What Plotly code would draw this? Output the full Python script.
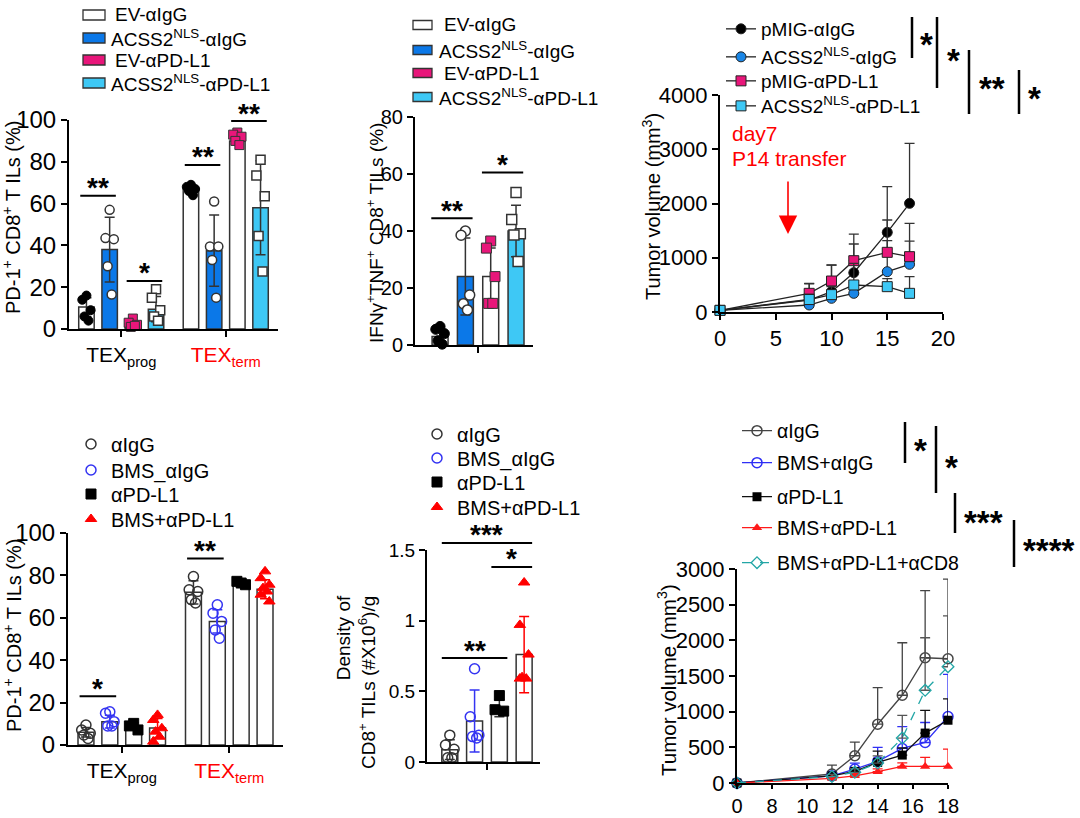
import plotly.graph_objects as go

W, H = 1080, 818
FONT = "Liberation Sans, Arial, Helvetica, sans-serif"

# ======================= DATA =======================
# ---- Panel A: PD-1+ CD8+ TILs (%) in TEXprog / TEXterm ----
A_groups = ["TEX<sub>prog</sub>", "<span style=\"color:#ff0000\">TEX<sub>term</sub></span>"]
A_series = ["EV-αIgG", "ACSS2<sup>NLS</sup>-αIgG", "EV-αPD-L1", "ACSS2<sup>NLS</sup>-αPD-L1"]
A_mean_EV_IgG = [10.5, 67.0]
A_mean_ACSS2_IgG = [38.0, 37.5]
A_mean_EV_PDL1 = [2.5, 90.0]
A_mean_ACSS2_PDL1 = [9.5, 58.0]
A_sd_EV_IgG = [4.5, 1.5]
A_sd_ACSS2_IgG = [15.5, 17.0]
A_sd_EV_PDL1 = [1.2, 2.0]
A_sd_ACSS2_PDL1 = [6.0, 22.5]
A_pts_EV_IgG = [[16, 14, 9, 6, 4], [69, 68, 67, 66, 64]]
A_pts_ACSS2_IgG = [[57, 43.5, 43, 30, 16.5], [61, 39.5, 39.5, 33, 15]]
A_pts_EV_PDL1 = [[5, 3, 2, 1, 1.5], [94, 93, 92, 90, 88]]
A_pts_ACSS2_PDL1 = [[19, 15, 9, 6, 4], [81, 73.5, 63.5, 44.5, 27.5]]
# (group, bar i, bar j, height, label)
A_sig = [(0, 0, 1, 63.7, "**"), (0, 2, 3, 23.0, "*"), (1, 0, 1, 78.5, "**"), (1, 2, 3, 99.5, "**")]

# ---- Panel B: IFNγ+TNF+ CD8+ TILs (%) ----
B_series = A_series
B_means = [3.0, 24.0, 24.0, 40.0]
B_sds = [3.0, 13.5, 10.0, 9.0]
B_pts_EV_IgG = [6.5, 5.5, 4.0, 1.5, 0.3]
B_pts_ACSS2_IgG = [40.0, 38.5, 17.5, 14.5, 12.3]
B_pts_EV_PDL1 = [36.5, 34.0, 24.0, 14.6, 14.6]
B_pts_ACSS2_PDL1 = [53.5, 44.0, 39.0, 38.6, 29.3]
B_sig = [(0, 1, 44.5, "**"), (2, 3, 60.5, "*")]

# ---- Panel C: tumor growth (P14 transfer) ----
C_days = [0, 8, 10, 12, 15, 17]
C_names = ["pMIG-αIgG", "ACSS2<sup>NLS</sup>-αIgG", "pMIG-αPD-L1", "ACSS2<sup>NLS</sup>-αPD-L1"]
C_pMIG_IgG = [30, 221, 375, 725, 1468, 2003]
C_pMIG_IgG_sd = [10, 300, 490, 528, 842, 1107]
C_ACSS2_IgG = [30, 129, 252, 344, 743, 879]
C_ACSS2_IgG_sd = [10, 90, 120, 200, 571, 429]
C_pMIG_PDL1 = [30, 344, 571, 946, 1100, 1020]
C_pMIG_PDL1_sd = [10, 185, 295, 491, 596, 614]
C_ACSS2_PDL1 = [30, 230, 320, 498, 467, 344]
C_ACSS2_PDL1_sd = [10, 100, 150, 400, 150, 307]
C_ticks_x = [0, 5, 10, 15, 20]
C_ticks_y = [0, 1000, 2000, 3000, 4000]

# ---- Panel D: PD-1+ CD8+ TILs (%) with BMS ----
D_groups = A_groups
D_series = ["αIgG", "BMS_αIgG", "αPD-L1", "BMS+αPD-L1"]
D_mean_IgG = [6.0, 72.0]
D_mean_BMS_IgG = [11.0, 58.3]
D_mean_PDL1 = [9.0, 77.0]
D_mean_BMS_PDL1 = [8.0, 73.5]
D_sd_IgG = [2.2, 5.5]
D_sd_BMS_IgG = [3.0, 5.5]
D_sd_PDL1 = [1.5, 1.0]
D_sd_BMS_PDL1 = [4.5, 4.5]
D_pts_IgG = [[9.4, 7.1, 5.5, 4.7, 3.1], [79.5, 73.2, 72.4, 68.5, 67.0]]
D_pts_BMS_IgG = [[15.7, 15.0, 11.0, 9.0, 9.0], [66.1, 62.2, 58.3, 54.3, 50.4]]
D_pts_PDL1 = [[10.2, 9.0, 7.1], [76.4, 77.2, 75.6]]
D_pts_BMS_PDL1 = [[14.2, 11.8, 7.9, 6.3, 3.9, 1.6], [81.9, 78.7, 75.6, 74.0, 72.4, 70.9, 67.7]]
D_sig = [(0, 0, 1, 23.0, "*"), (1, 0, 1, 88.0, "**")]

# ---- Panel E: density of CD8+ TILs ----
E_series = D_series
E_means = [0.087, 0.29, 0.38, 0.76]
E_sds = [0.07, 0.22, 0.06, 0.27]
E_pts_IgG = [0.19, 0.12, 0.09, 0.03, 0.03]
E_pts_BMS_IgG = [0.66, 0.32, 0.19, 0.18, 0.17]
E_pts_PDL1 = [0.47, 0.37, 0.36]
E_pts_BMS_PDL1 = [1.27, 0.97, 0.76, 0.60, 0.59, 0.59]
E_sig = [(0, 3, 1.55, "***"), (2, 3, 1.38, "*"), (0, 2, 0.735, "**")]
E_ticks_y = [0, 0.5, 1, 1.5]
E_ticktext_y = ["0", "0.5", "1", "1.5"]

# ---- Panel F: tumor growth with BMS ----
F_days = [0, 11.4, 12.7, 14, 15.4, 16.7, 18]
F_names = ["αIgG", "BMS+αIgG", "αPD-L1", "BMS+αPD-L1", "BMS+αPD-L1+αCD8"]
F_IgG = [0, 126, 382, 824, 1230, 1756, 1742]
F_IgG_sd = [0, 125, 190, 513, 736, 941, 1116]
F_BMS_IgG = [0, 100, 195, 303, 484, 568, 932]
F_BMS_IgG_sd = [0, 40, 85, 197, 306, 280, 591]
F_PDL1 = [0, 100, 163, 289, 391, 700, 880]
F_PDL1_sd = [0, 30, 40, 157, 100, 318, 300]
F_BMS_PDL1 = [0, 65, 100, 158, 233, 233, 233]
F_BMS_PDL1_sd = [0, 20, 30, 40, 50, 125, 241]
F_BMS_PDL1_CD8 = [0, 90, 150, 280, 630, 1300, 1630]
F_BMS_PDL1_CD8_sd = [0, 30, 50, 100, 318, 736, 713]
F_ticks_x = [0, 8, 10, 12, 14, 16, 18]
F_ticks_y = [0, 500, 1000, 1500, 2000, 2500, 3000]


# ======================= GEOMETRY / STYLE =======================
class Panel:
    def __init__(self, k, x0, x1, ytop, ybot, xr, yr):
        self.k, self.x0, self.x1, self.ytop, self.ybot, self.xr, self.yr = k, x0, x1, ytop, ybot, xr, yr
        s = "" if k == 1 else str(k)
        self.xa, self.ya = "x" + s, "y" + s
        self.xkey, self.ykey = "xaxis" + s, "yaxis" + s

    def xpix(self, v):
        return self.x0 + (v - self.xr[0]) / (self.xr[1] - self.xr[0]) * (self.x1 - self.x0)

    def ypix(self, v):
        return self.ybot - (v - self.yr[0]) / (self.yr[1] - self.yr[0]) * (self.ybot - self.ytop)


PA = Panel(1, 69, 278, 120, 329, (-0.5, 1.5), (0, 100))
PB = Panel(2, 415, 533, 117, 345, (-0.99, 3.67), (0, 80))
PC = Panel(3, 720, 943, 95, 312, (0, 20), (0, 4000))
PD = Panel(4, 68, 283, 533, 745, (-0.5, 1.5), (0, 100))
PE = Panel(5, 427, 540, 550, 762, (-0.92, 3.64), (0, 1.5))
PF = Panel(6, 737, 948, 569, 783, (0, 6), (0, 3000))

A_SLOT, A_BARW = 0.222, 0.148
B_BARW = 0.63
E_BARW = 0.645
JITTER = [0.0, -0.27, 0.27, -0.13, 0.13, -0.27, 0.27]
EDGE = "#333333"

BLUE = "#0b78e8"
PINK = "#e8167a"
CYAN = "#3ec8f5"
D_BLUE = "#3434f2"
D_RED = "#ff0000"
TEAL = "#23a6a6"


def px(x):
    return x / W


def py(y):
    return 1 - y / H


def f_pos(d):
    # Prism-style segmented axis: 0-8 compressed to one major interval
    return d / 8 if d <= 8 else 1 + (d - 8) / 2


fig = go.Figure()
layout_axes = {}
shapes = []
annotations = []
legends = {}
leg_count = [0]


def new_legend(x_text, y_center, size):
    leg_count[0] += 1
    n = leg_count[0]
    key = "legend" if n == 1 else "legend%d" % n
    legends[key] = dict(x=px(x_text - 41), y=py(y_center), xanchor="left", yanchor="middle",
                        bgcolor="rgba(0,0,0,0)", borderwidth=0, itemwidth=30, tracegroupgap=0,
                        font=dict(family=FONT, size=size, color="black"))
    return key


def set_axes(P, xextra, yextra, tfs):
    base = dict(showline=True, linecolor="black", linewidth=2, ticks="outside", ticklen=6, tickwidth=2,
                tickcolor="black", showgrid=False, zeroline=False, fixedrange=True,
                tickfont=dict(family=FONT, size=tfs, color="black"))
    xa = dict(base, domain=[px(P.x0), px(P.x1)], range=list(P.xr), anchor=P.ya)
    xa.update(xextra)
    ya = dict(base, domain=[py(P.ybot), py(P.ytop)], range=list(P.yr), anchor=P.xa)
    ya.update(yextra)
    layout_axes[P.xkey] = xa
    layout_axes[P.ykey] = ya


def text(x, y, t, size, color="black", xanchor="center", angle=0, align="center", bold=False):
    annotations.append(dict(x=px(x), y=py(y), xref="paper", yref="paper", text=("<b>%s</b>" % t) if bold else t,
                            showarrow=False, xanchor=xanchor, yanchor="middle", textangle=angle, align=align,
                            font=dict(family=FONT, size=size, color=color)))


def sig_h(P, xv0, xv1, yv, label, size=28):
    yl = P.ypix(yv)
    shapes.append(dict(type="line", xref="paper", yref="paper", x0=px(P.xpix(xv0)), x1=px(P.xpix(xv1)),
                       y0=py(yl), y1=py(yl), line=dict(color="black", width=2)))
    text((P.xpix(xv0) + P.xpix(xv1)) / 2, yl - 8, label, size, bold=True)


def sig_v(x, y0, y1, label, tx, ty, size=33):
    shapes.append(dict(type="line", xref="paper", yref="paper", x0=px(x), x1=px(x), y0=py(y0), y1=py(y1),
                       line=dict(color="black", width=2.5)))
    annotations.append(dict(x=px(tx), y=py(ty + 7), xref="paper", yref="paper", text="<b>%s</b>" % label,
                            showarrow=False, xanchor="left", yanchor="middle",
                            font=dict(family=FONT, size=size, color="black")))


def bar_panel(P, xs_list, width, means, sds, pts_list, fills, mstyles, ecolors, msize, legend_spec=None):
    for i in range(len(means)):
        fig.add_trace(go.Bar(x=xs_list[i], y=means[i], width=width, xaxis=P.xa, yaxis=P.ya, showlegend=False,
                             marker=dict(color=fills[i], line=dict(color=EDGE, width=1.5)),
                             error_y=dict(type="data", array=sds[i], color=ecolors[i], thickness=1.5, width=5)))
    for i in range(len(means)):
        xx, yy = [], []
        for g, vals in enumerate(pts_list[i]):
            for k, v in enumerate(vals):
                xx.append(xs_list[i][g] + JITTER[k % len(JITTER)] * width)
                yy.append(v)
        kw = dict(showlegend=False)
        if legend_spec is not None:
            names, tx, rows, fs = legend_spec
            kw = dict(showlegend=True, name=names[i], legend=new_legend(tx, rows[i], fs))
        fig.add_trace(go.Scatter(x=xx, y=yy, mode="markers", xaxis=P.xa, yaxis=P.ya, cliponaxis=False,
                                 marker=dict(size=msize, **mstyles[i]), **kw))


# ======================= PANEL A =======================
A_means = [A_mean_EV_IgG, A_mean_ACSS2_IgG, A_mean_EV_PDL1, A_mean_ACSS2_PDL1]
A_sds = [A_sd_EV_IgG, A_sd_ACSS2_IgG, A_sd_EV_PDL1, A_sd_ACSS2_PDL1]
A_pts = [A_pts_EV_IgG, A_pts_ACSS2_IgG, A_pts_EV_PDL1, A_pts_ACSS2_PDL1]


def a_center(g, i):
    return g + (i - 1.5) * A_SLOT


A_xs = [[a_center(g, i) for g in range(len(A_groups))] for i in range(4)]
A_fill = ["white", BLUE, "white", CYAN]
A_leg_fill = ["white", BLUE, PINK, CYAN]
AB_mstyle = [
    dict(symbol="circle", color="black", line=dict(color="black", width=1)),
    dict(symbol="circle", color="white", line=dict(color=EDGE, width=1.5)),
    dict(symbol="square", color=PINK, line=dict(color=EDGE, width=1)),
    dict(symbol="square", color="white", line=dict(color=EDGE, width=1.5)),
]
bar_panel(PA, A_xs, A_BARW, A_means, A_sds, A_pts, A_fill, AB_mstyle, [EDGE] * 4, 9)
set_axes(PA, dict(tickvals=list(range(len(A_groups))), ticktext=A_groups, tickfont=dict(family=FONT, size=21, color="black")),
         dict(tickvals=[0, 20, 40, 60, 80, 100]), 24)
for g, i, j, v, lab in A_sig:
    sig_h(PA, a_center(g, i) - 0.4 * A_BARW, a_center(g, j) + 0.4 * A_BARW, v, lab)
text(12, 218, "PD-1<sup>+</sup> CD8<sup>+</sup> T ILs (%)", 20, angle=-90)

# manual legend (bar swatches)
A_leg_rows = [15, 38, 60, 83]
A_leg_dx = [4, 0, 4, 0]
for i in range(4):
    r = A_leg_rows[i]
    shapes.append(dict(type="rect", xref="paper", yref="paper", x0=px(83), x1=px(105), y0=py(r + 5), y1=py(r - 5),
                       fillcolor=A_leg_fill[i], line=dict(color=EDGE, width=1.3)))
    text(109 + A_leg_dx[i], r, A_series[i], 19, xanchor="left")

# ======================= PANEL B =======================
B_pts = [B_pts_EV_IgG, B_pts_ACSS2_IgG, B_pts_EV_PDL1, B_pts_ACSS2_PDL1]
B_xs = [[i] for i in range(4)]
bar_panel(PB, B_xs, B_BARW, [[m] for m in B_means], [[s] for s in B_sds], [[p] for p in B_pts],
          A_fill, AB_mstyle, [EDGE] * 4, 10)
set_axes(PB, dict(tickvals=[1.5], ticktext=[""]), dict(tickvals=[0, 20, 40, 60, 80]), 20)
for i, j, v, lab in B_sig:
    sig_h(PB, i - 0.55 * B_BARW, j + 0.45 * B_BARW, v, lab)
text(375, 233, "IFNγ<sup>+</sup>TNF<sup>+</sup> CD8<sup>+</sup> TILs (%)", 19, angle=-90)
B_leg_rows = [25, 50, 73, 97]
B_leg_dx = [5, 0, 5, 0]
for i in range(4):
    r = B_leg_rows[i]
    shapes.append(dict(type="rect", xref="paper", yref="paper", x0=px(413), x1=px(432), y0=py(r + 4.5), y1=py(r - 4.5),
                       fillcolor=A_leg_fill[i], line=dict(color=EDGE, width=1.3)))
    text(437 + B_leg_dx[i], r, B_series[i], 19, xanchor="left")

# ======================= PANEL C =======================
C_vals = [C_pMIG_IgG, C_ACSS2_IgG, C_pMIG_PDL1, C_ACSS2_PDL1]
C_sds = [C_pMIG_IgG_sd, C_ACSS2_IgG_sd, C_pMIG_PDL1_sd, C_ACSS2_PDL1_sd]
C_mark = [dict(symbol="circle", color="black"), dict(symbol="circle", color="#1a86e6"),
          dict(symbol="square", color=PINK), dict(symbol="square", color=CYAN)]
C_leg_rows = [29, 57, 81, 106]
for i in range(4):
    fig.add_trace(go.Scatter(x=C_days, y=C_vals[i], mode="lines+markers", xaxis=PC.xa, yaxis=PC.ya, cliponaxis=False,
                             name=C_names[i], legend=new_legend(762, C_leg_rows[i], 19),
                             line=dict(color="#222", width=1.3),
                             marker=dict(size=10, line=dict(color="#222", width=1), **C_mark[i]),
                             error_y=dict(type="data", symmetric=False, array=C_sds[i], arrayminus=[0] * len(C_days),
                                          color="#333", thickness=1.3, width=5)))
set_axes(PC, dict(tickvals=C_ticks_x), dict(tickvals=C_ticks_y), 22)
text(652, 207, "Tumor volume (mm<sup>3</sup>)", 20, angle=-90)
text(730, 133, "day7", 21, color="#ff0000", xanchor="left")
text(730, 159, "P14 transfer", 21, color="#ff0000", xanchor="left")
annotations.append(dict(x=px(788), y=py(234), xref="paper", yref="paper", text="", showarrow=True,
                        ax=0, ay=-54, axref="pixel", ayref="pixel", arrowhead=2, arrowsize=2.3,
                        arrowwidth=1.6, arrowcolor="#ff0000"))
sig_v(912, 17, 58, "*", 918, 38)
sig_v(937, 17, 88, "*", 945, 53)
sig_v(969, 50, 114, "**", 977, 82)
sig_v(1019, 70, 114, "*", 1026, 92)

# ======================= PANEL D =======================
D_means = [D_mean_IgG, D_mean_BMS_IgG, D_mean_PDL1, D_mean_BMS_PDL1]
D_sds = [D_sd_IgG, D_sd_BMS_IgG, D_sd_PDL1, D_sd_BMS_PDL1]
D_pts = [D_pts_IgG, D_pts_BMS_IgG, D_pts_PDL1, D_pts_BMS_PDL1]
D_xs = [[a_center(g, i) for g in range(len(D_groups))] for i in range(4)]
DE_mstyle = [
    dict(symbol="circle-open", color="#333", line=dict(width=1.5)),
    dict(symbol="circle-open", color=D_BLUE, line=dict(width=1.5)),
    dict(symbol="square", color="black", line=dict(color="black", width=1)),
    dict(symbol="triangle-up", color=D_RED, line=dict(color=D_RED, width=1)),
]
DE_ecol = [EDGE, D_BLUE, EDGE, D_RED]
bar_panel(PD, D_xs, A_BARW, D_means, D_sds, D_pts, ["white"] * 4, DE_mstyle, DE_ecol, 10,
          legend_spec=(D_series, 112, [444, 470, 494, 519], 20))
set_axes(PD, dict(tickvals=list(range(len(D_groups))), ticktext=D_groups, tickfont=dict(family=FONT, size=21, color="black")),
         dict(tickvals=[0, 20, 40, 60, 80, 100]), 24)
for g, i, j, v, lab in D_sig:
    sig_h(PD, a_center(g, i) - 0.4 * A_BARW, a_center(g, j) + 0.4 * A_BARW, v, lab)
text(12, 636, "PD-1<sup>+</sup> CD8<sup>+</sup> T ILs (%)", 20, angle=-90)

# ======================= PANEL E =======================
E_pts = [E_pts_IgG, E_pts_BMS_IgG, E_pts_PDL1, E_pts_BMS_PDL1]
bar_panel(PE, [[i] for i in range(4)], E_BARW, [[m] for m in E_means], [[s] for s in E_sds], [[p] for p in E_pts],
          ["white"] * 4, DE_mstyle, DE_ecol, 10, legend_spec=(E_series, 458, [434, 458, 482, 507], 20))
set_axes(PE, dict(tickvals=[1.5], ticktext=[""]), dict(tickvals=E_ticks_y, ticktext=E_ticktext_y), 19)
for i, j, v, lab in E_sig:
    sig_h(PE, i - 0.5 * E_BARW, j + 0.5 * E_BARW, v, lab)
text(356, 682, "Density of<br>CD8<sup>+</sup> TILs (#X10<sup>6</sup>)/g", 19, angle=-90, align="right")

# ======================= PANEL F =======================
F_vals = [F_IgG, F_BMS_IgG, F_PDL1, F_BMS_PDL1, F_BMS_PDL1_CD8]
F_sds = [F_IgG_sd, F_BMS_IgG_sd, F_PDL1_sd, F_BMS_PDL1_sd, F_BMS_PDL1_CD8_sd]
F_line = [dict(color="#444", width=1.3), dict(color="#2f2ff5", width=1.3), dict(color="#111", width=1.3),
          dict(color="#ff1a1a", width=1.3), dict(color=TEAL, width=1.3, dash="dash")]
F_mark = [dict(symbol="circle-open", size=10, color="#444", line=dict(width=1.5)),
          dict(symbol="circle-open", size=10, color="#2f2ff5", line=dict(width=1.5)),
          dict(symbol="square", size=9, color="black"),
          dict(symbol="triangle-up", size=9, color="#ff1a1a"),
          dict(symbol="diamond-open", size=9, color=TEAL, line=dict(width=1.3))]
F_ecol = ["#444", "#2f2ff5", "#111", "#ff1a1a", "#555"]
F_leg_rows = [431, 463, 497, 528, 563]
F_x = [f_pos(d) for d in F_days]
for i in range(5):
    fig.add_trace(go.Scatter(x=F_x, y=F_vals[i], mode="lines+markers", xaxis=PF.xa, yaxis=PF.ya, cliponaxis=False,
                             name=F_names[i], legend=new_legend(778, F_leg_rows[i], 19.5),
                             line=F_line[i], marker=F_mark[i],
                             error_y=dict(type="data", symmetric=False, array=F_sds[i], arrayminus=[0] * len(F_days),
                                          color=F_ecol[i], thickness=1.3, width=5)))
set_axes(PF, dict(tickvals=[f_pos(t) for t in F_ticks_x], ticktext=[str(t) for t in F_ticks_x], ticklen=4,
                  tickfont=dict(family=FONT, size=20, color="black")),
         dict(tickvals=F_ticks_y), 22)
text(667, 680, "Tumor volume (mm<sup>3</sup>)", 20.5, angle=-90)
sig_v(905, 422, 463, "*", 912, 443)
sig_v(936, 426, 493, "*", 943, 460)
sig_v(955, 493, 533, "***", 962, 515)
sig_v(1014, 520, 567, "****", 1021, 543)

# ======================= LAYOUT =======================
fig.update_layout(width=W, height=H, margin=dict(l=0, r=0, t=0, b=0, autoexpand=False),
                  paper_bgcolor="white", plot_bgcolor="white", barmode="overlay",
                  font=dict(family=FONT, color="black"), shapes=shapes, annotations=annotations,
                  **layout_axes, **legends)

fig.write_html("out.html", config={"displayModeBar": False},
               post_script="document.body.style.margin='0px';document.body.style.overflow='hidden';")
